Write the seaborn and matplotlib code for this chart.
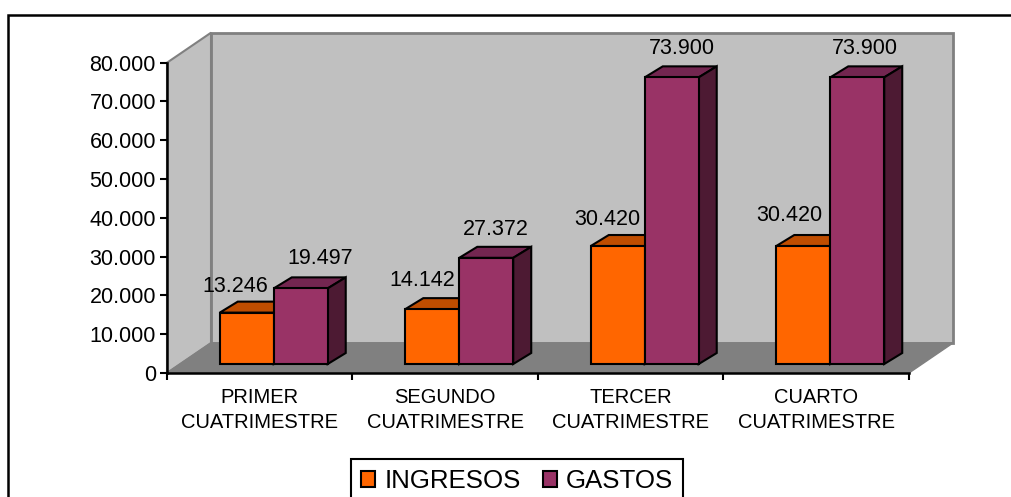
import matplotlib
matplotlib.use("Agg")
import matplotlib.pyplot as plt
import seaborn as sns
import numpy as np
import pandas as pd
from matplotlib.lines import Line2D
from matplotlib.patches import Polygon
from matplotlib.ticker import FuncFormatter
from matplotlib.transforms import Affine2D, IdentityTransform

categories = ["PRIMER\nCUATRIMESTRE", "SEGUNDO\nCUATRIMESTRE",
              "TERCER\nCUATRIMESTRE", "CUARTO\nCUATRIMESTRE"]
ingresos = [13246, 14142, 30420, 30420]
gastos = [19497, 27372, 73900, 73900]
series_names = ["INGRESOS", "GASTOS"]
y_ticks = [0, 10000, 20000, 30000, 40000, 50000, 60000, 70000, 80000]

# label offsets in pixels from the top middle of each bar, Excel put them by hand
label_offsets_ing = [(-12, 26), (-10, 29), (-10, 27), (-14, 31)]
label_offsets_gas = [(19, 30), (10, 28), (10, 29), (8, 29)]

ORANGE, ORANGE_TOP = "#FF6600", "#BF4D00"
PURPLE, PURPLE_TOP, PURPLE_SIDE = "#993366", "#732650", "#4D1A33"
WALL, FLOOR = "#C0C0C0", "#808080"

W, H = 1012, 497
WALL_DX, WALL_DY = 44, 30   # depth of the fake 3d box
BAR_DX, BAR_DY = 14, 9      # bars stand a bit inside the floor
DEPTH_DX, DEPTH_DY = 18, 11 # depth of each bar


def es_number(v, pos=None):
    return f"{int(v):,}".replace(",", ".")


sns.set_theme(style="white")
plt.rcParams["font.family"] = ["Liberation Sans", "DejaVu Sans"]

df = pd.DataFrame({
    "categoria": categories * 2,
    "valor": ingresos + gastos,
    "serie": [series_names[0]] * 4 + [series_names[1]] * 4,
})

fig = plt.figure(figsize=(W / 100, H / 100), dpi=100)
ax = fig.add_axes([167 / W, (H - 373) / H, 742 / W, 310.3 / H])
ax.patch.set_visible(False)

sns.barplot(data=df, x="categoria", y="valor", hue="serie", palette=[ORANGE, PURPLE],
            width=0.582, gap=0, dodge=True, saturation=1, legend=False, ax=ax)
bars = list(ax.patches)
ax.set_xlim(-0.5, 3.5)
ax.set_ylim(0, 80000)


def to_px(x, y):
    return ax.transData.transform((x, y))


def add_face(points, color, edge="black", lw=1.5, z=1):
    ax.add_patch(Polygon(points, closed=True, facecolor=color, edgecolor=edge, linewidth=lw,
                         transform=IdentityTransform(), clip_on=False, zorder=z))


# back wall, left wall and floor
wall = np.array([WALL_DX, WALL_DY])
bl, br = to_px(-0.5, 0), to_px(3.5, 0)
tl, tr = to_px(-0.5, 80000), to_px(3.5, 80000)
add_face([bl + wall, br + wall, tr + wall, tl + wall], WALL, edge=FLOOR, lw=2, z=0.1)
add_face([bl, tl, tl + wall, bl + wall], WALL, edge=FLOOR, lw=1.5, z=0.2)
add_face([bl, br, br + wall, bl + wall], FLOOR, edge=FLOOR, lw=1, z=0.3)

# bars: front from seaborn, moved onto the floor, then top and side faces
shift = np.array([BAR_DX, BAR_DY])
depth = np.array([DEPTH_DX, DEPTH_DY])
for i, bar in enumerate(bars):
    is_gasto = i >= 4
    x0, x1, h = bar.get_x(), bar.get_x() + bar.get_width(), bar.get_height()
    a, b, c = to_px(x0, h) + shift, to_px(x1, h) + shift, to_px(x1, 0) + shift
    add_face([a, b, b + depth, a + depth], PURPLE_TOP if is_gasto else ORANGE_TOP, z=1)
    add_face([b, c, c + depth, b + depth], PURPLE_SIDE if is_gasto else ORANGE_TOP, z=1)
    bar.set_transform(ax.transData + Affine2D().translate(*shift))
    bar.set_edgecolor("black")
    bar.set_linewidth(1.5)
    bar.set_clip_on(False)
    bar.set_zorder(2)
    dx, dy = (label_offsets_gas[i - 4] if is_gasto else label_offsets_ing[i])
    ax.annotate(es_number(h), xy=((x0 + x1) / 2, h), xytext=(BAR_DX + dx, BAR_DY + dy),
                textcoords="offset pixels", ha="center", va="center",
                fontsize=15.5, color="black", zorder=5, annotation_clip=False)

# axes
sns.despine(ax=ax)
for side in ["left", "bottom"]:
    ax.spines[side].set_color("black")
    ax.spines[side].set_linewidth(1.8)
    ax.spines[side].set_zorder(4)

ax.set_xlabel("")
ax.set_ylabel("")
ax.set_yticks(y_ticks)
ax.yaxis.set_major_formatter(FuncFormatter(es_number))
ax.tick_params(axis="y", left=True, length=5, width=1.5, color="black",
               labelsize=15.5, labelcolor="black", pad=3)
ax.set_xticks(np.arange(-0.5, 4), labels=[""] * 5)
ax.set_xticks(range(4), labels=categories, minor=True)
ax.tick_params(axis="x", which="major", bottom=True, length=5, width=1.5, color="black")
ax.tick_params(axis="x", which="minor", bottom=False, labelsize=14.5, labelcolor="black", pad=7)
for lab in ax.get_xticklabels(minor=True):
    lab.set_linespacing(1.36)
ax.grid(False)

# legend box runs off the bottom of the picture
handles = [bars[0], bars[4]]
leg = ax.legend(handles, series_names, loc="lower left", ncol=2,
                bbox_to_anchor=(351 / W, -6 / H), bbox_transform=fig.transFigure,
                prop={"size": 18.6}, labelcolor="black", fancybox=False, framealpha=1,
                edgecolor="black", borderaxespad=0, borderpad=0.38,
                handlelength=0.55, handleheight=0.55,
                handletextpad=0.36, columnspacing=0.85)
leg.get_frame().set_linewidth(1.5)

# outer frame, the right and bottom sides fall outside the crop
fig.add_artist(Line2D([8 / W, 8 / W, 1], [0, 1 - 15 / H, 1 - 15 / H],
                      color="black", linewidth=1.8, solid_joinstyle="miter"))

fig.savefig("out.png", dpi=100)
